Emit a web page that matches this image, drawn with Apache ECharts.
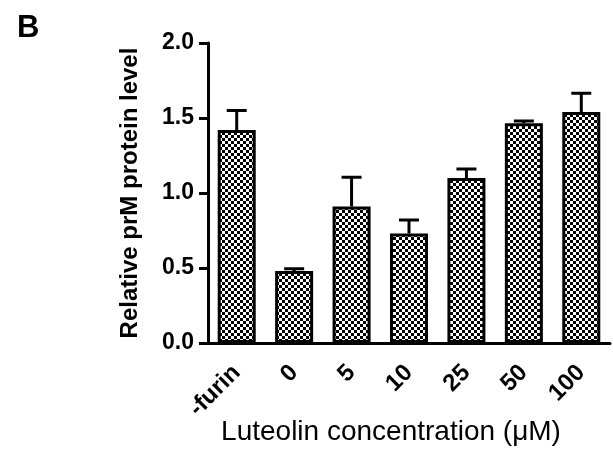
<!DOCTYPE html>
<html>
<head>
<meta charset="utf-8">
<script src="https://cdn.jsdelivr.net/npm/echarts@6/dist/echarts.min.js"></script>
<style>
  html, body { margin: 0; padding: 0; background: #fff; }
  #chart { width: 613px; height: 449px; }
</style>
</head>
<body>
<div id="chart"></div>
<script>
// data
const categories = ['-furin', '0', '5', '10', '25', '50', '100']
const means = [1.42, 0.48, 0.91, 0.73, 1.10, 1.465, 1.54]
const errUpper = [1.55, 0.495, 1.105, 0.82, 1.16, 1.48, 1.665]
const yTicks = [0, 0.5, 1.0, 1.5, 2.0]

// checkerboard fill like the prism hatch
const checker = document.createElement('canvas')
checker.width = 6
checker.height = 6
const cctx = checker.getContext('2d')
cctx.fillStyle = '#fff'
cctx.fillRect(0, 0, 6, 6)
cctx.fillStyle = '#000'
cctx.fillRect(0, 0, 3, 3)
cctx.fillRect(3, 3, 3, 3)

const chart = echarts.init(document.getElementById('chart'))

const fontBase = 'Liberation Sans, Arial, sans-serif'

chart.setOption({
  animation: false,
  graphic: [{
    type: 'text',
    left: 17,
    top: 13,
    style: { text: 'B', font: 'bold 31px ' + fontBase, fill: '#000' }
  }],
  grid: { left: 208, right: 3, top: 43, bottom: 106, outerBoundsMode: 'none' },
  xAxis: {
    type: 'category',
    data: categories,
    name: 'Luteolin concentration (\u03bcM)',
    nameLocation: 'middle',
    nameGap: 75,
    nameMoveOverlap: false,
    nameTextStyle: { fontFamily: fontBase, fontSize: 28, color: '#000', padding: [0, 36, 0, 0] },
    axisLine: { lineStyle: { color: '#000', width: 3 } },
    axisTick: { alignWithLabel: true, length: 8, lineStyle: { color: '#000', width: 3 } },
    axisLabel: {
      rotate: 45,
      margin: 26,
      fontFamily: fontBase,
      fontWeight: 'bold',
      fontSize: 24,
      color: '#000'
    }
  },
  yAxis: {
    type: 'value',
    min: 0,
    max: 2,
    interval: 0.5,
    name: 'Relative prM protein level',
    nameLocation: 'middle',
    nameGap: 66,
    nameMoveOverlap: false,
    nameTextStyle: { fontFamily: fontBase, fontWeight: 'bold', fontSize: 24, color: '#000' },
    axisLine: { show: true, lineStyle: { color: '#000', width: 3 } },
    axisTick: { show: true, length: 9, lineStyle: { color: '#000', width: 3 } },
    splitLine: { show: false },
    axisLabel: {
      margin: 14,
      fontFamily: fontBase,
      fontWeight: 'bold',
      fontSize: 23,
      color: '#000',
      formatter: v => yTicks.indexOf(v) >= 0 ? v.toFixed(1) : ''
    }
  },
  series: [
    {
      type: 'bar',
      data: means,
      barWidth: 38,
      itemStyle: {
        color: { image: checker, repeat: 'repeat' },
        borderColor: '#000',
        borderWidth: 3
      },
      z: 2
    },
    {
      type: 'custom',
      data: categories.map((c, i) => [i, means[i], errUpper[i]]),
      z: 3,
      renderItem: (params, api) => {
        const base = api.coord([api.value(0), api.value(1)])
        const top = api.coord([api.value(0), api.value(2)])
        const half = 10
        return {
          type: 'group',
          children: [
            { type: 'line', shape: { x1: base[0], y1: base[1], x2: top[0], y2: top[1] },
              style: { stroke: '#000', lineWidth: 3 } },
            { type: 'line', shape: { x1: top[0] - half, y1: top[1], x2: top[0] + half, y2: top[1] },
              style: { stroke: '#000', lineWidth: 3 } }
          ]
        }
      }
    }
  ]
})
</script>
</body>
</html>
